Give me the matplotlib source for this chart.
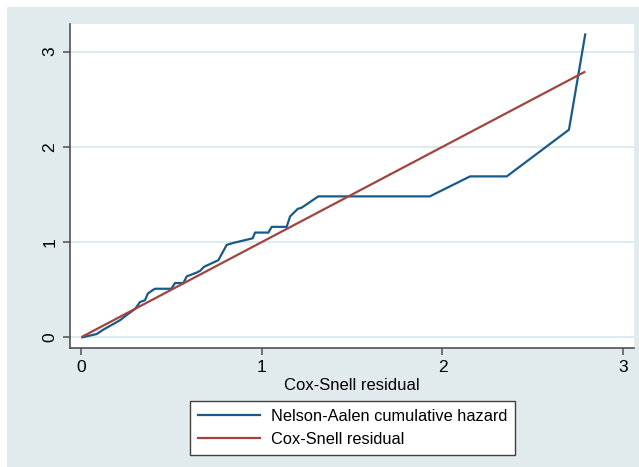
import matplotlib
matplotlib.use("Agg")
import matplotlib.pyplot as plt
from matplotlib.patches import Rectangle

plt.rcParams['font.family'] = ['Liberation Sans', 'DejaVu Sans']

# Nelson-Aalen cumulative hazard vs Cox-Snell residual
na_x = [0.007, 0.087, 0.12, 0.216, 0.25, 0.30, 0.326, 0.354, 0.37, 0.40, 0.41,
        0.50, 0.52, 0.566, 0.585, 0.64, 0.66, 0.68, 0.76, 0.78, 0.806, 0.84,
        0.95, 0.963, 1.037, 1.055, 1.138, 1.157, 1.20, 1.22, 1.313, 1.93,
        2.153, 2.356, 2.70, 2.79]
na_y = [0.0, 0.035, 0.077, 0.18, 0.23, 0.30, 0.37, 0.39, 0.46, 0.50, 0.51,
        0.51, 0.57, 0.57, 0.64, 0.68, 0.70, 0.74, 0.81, 0.88, 0.97, 0.99,
        1.04, 1.10, 1.10, 1.16, 1.16, 1.27, 1.35, 1.36, 1.48, 1.48,
        1.69, 1.69, 2.18, 3.18]
ref_x = [0.01, 2.785]
ref_y = [0.01, 2.785]

ticks = [0, 1, 2, 3]
tick_labels = ["0", "1", "2", "3"]

W, H = 639, 467
fig = plt.figure(figsize=(W / 100, H / 100), dpi=100)
fig.patch.set_facecolor('white')
fig.patches.append(Rectangle((7 / W, 0), 1 - 7 / W, (H - 7) / H,
                             transform=fig.transFigure, facecolor='#e1ebee',
                             edgecolor='none', zorder=-10))

ax = fig.add_axes([70 / W, (H - 348) / H, (634 - 70) / W, (348 - 24) / H])
ax.set_facecolor('white')

blue = '#1a5a8a'
red = '#a0443e'
l1, = ax.plot(na_x, na_y, color=blue, lw=1.6, label='Nelson-Aalen cumulative hazard', zorder=3)
l2, = ax.plot(ref_x, ref_y, color=red, lw=1.6, label='Cox-Snell residual', zorder=3)

ax.set_xlim(-0.061, 3.06)
ax.set_ylim(-0.112, 3.29)
ax.set_xticks(ticks)
ax.set_xticklabels(tick_labels, fontsize=12.5)
ax.set_yticks(ticks)
ax.set_yticklabels(tick_labels, fontsize=12.5, rotation=90, va='center')
ax.grid(axis='y', color='#d5e8ee', lw=1.2)
ax.set_axisbelow(True)

for s in ['top', 'right']:
    ax.spines[s].set_visible(False)
for s in ['left', 'bottom']:
    ax.spines[s].set_color('#505050')
    ax.spines[s].set_linewidth(1.2)
ax.tick_params(direction='out', length=5, width=1.1, color='#505050', pad=4)

ax.set_xlabel('Cox-Snell residual', fontsize=12, labelpad=2)

leg = fig.legend(handles=[l1, l2], loc='upper left',
                 bbox_to_anchor=(190 / W, (H - 401) / H),
                 fontsize=11.75, frameon=True, fancybox=False,
                 edgecolor='#404040', facecolor='white', framealpha=1,
                 handlelength=3.8, borderpad=0.5, labelspacing=0.45,
                 handletextpad=0.65, borderaxespad=0)
leg.get_frame().set_linewidth(1.0)

fig.savefig('out.png', dpi=100)
